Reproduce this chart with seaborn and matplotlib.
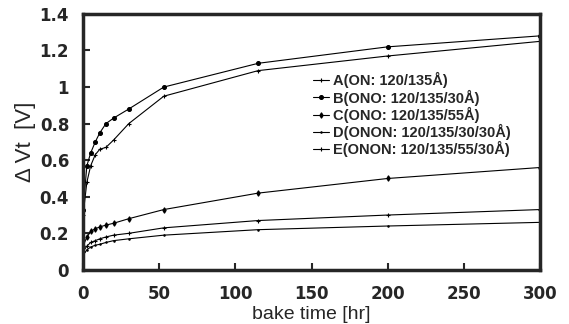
import matplotlib
matplotlib.use("Agg")
import matplotlib.pyplot as plt
import seaborn as sns
import pandas as pd
from matplotlib.ticker import FuncFormatter

# ---- data ----
bake_time = [0, 2.5, 5, 8, 11, 15, 20, 30, 53, 115, 200, 300]
series_names = [
    "A(ON: 120/135Å)",
    "B(ONO: 120/135/30Å)",
    "C(ONO: 120/135/55Å)",
    "D(ONON: 120/135/30/30Å)",
    "E(ONON: 120/135/55/30Å)",
]
vals_A = [0.30, 0.48, 0.57, 0.63, 0.66, 0.67, 0.71, 0.80, 0.95, 1.09, 1.17, 1.25]
vals_B = [0.33, 0.57, 0.64, 0.70, 0.75, 0.80, 0.83, 0.88, 1.00, 1.13, 1.22, 1.28]
vals_C = [0.13, 0.18, 0.21, 0.225, 0.235, 0.245, 0.255, 0.28, 0.33, 0.42, 0.50, 0.56]
vals_D = [0.08, 0.11, 0.125, 0.135, 0.14, 0.15, 0.16, 0.17, 0.19, 0.22, 0.24, 0.26]
vals_E = [0.10, 0.13, 0.15, 0.16, 0.17, 0.18, 0.19, 0.20, 0.23, 0.27, 0.30, 0.33]
markers = ["+", "o", "d", ".", "+"]
y_ticks = [0, 0.2, 0.4, 0.6, 0.8, 1.0, 1.2, 1.4]
x_ticks = [0, 50, 100, 150, 200, 250, 300]

values = [vals_A, vals_B, vals_C, vals_D, vals_E]
df = pd.concat(
    [pd.DataFrame({"t": bake_time, "v": v, "s": n}) for n, v in zip(series_names, values)],
    ignore_index=True,
)

sns.set_style("ticks")
plt.rcParams["font.family"] = ["Liberation Sans", "DejaVu Sans"]

fig = plt.figure(figsize=(5.69, 3.24), dpi=100)
ax = fig.add_axes([0.146, 0.167, 0.803, 0.790])

for name, mk in zip(series_names, markers):
    sub = df[df["s"] == name]
    sns.lineplot(data=sub, x="t", y="v", ax=ax, color="black", linewidth=0.8,
                 marker=mk, markersize=2.8 if mk != "." else 2.0,
                 markeredgecolor="black", markerfacecolor="black",
                 markeredgewidth=0.8, label=name)

ax.set_xlim(0, 300)
ax.set_ylim(0, 1.4)
ax.set_xticks(x_ticks)
ax.set_yticks(y_ticks)
ax.yaxis.set_major_formatter(FuncFormatter(lambda v, p: f"{v:g}"))
ax.tick_params(direction="in", length=5, width=1.5, labelsize=12)
ax.tick_params(axis="x", pad=11)
ax.tick_params(axis="y", pad=10)
for lab in ax.get_xticklabels() + ax.get_yticklabels():
    lab.set_family(["DejaVu Sans"])
    lab.set_fontweight("bold")
for sp in ax.spines.values():
    sp.set_linewidth(2.5)
    sp.set_visible(True)

ax.set_xlabel("bake time [hr]", fontsize=14, va="top")
ax.xaxis.set_label_coords(0.5, -0.14)
ax.set_ylabel("Δ Vt  [V]", fontsize=16, va="center")
ax.yaxis.set_label_coords(-0.125, 0.5)

leg = ax.legend(loc="upper left", bbox_to_anchor=(0.49, 0.795), frameon=False,
                fontsize=10.5, handlelength=1.1, handletextpad=0.3,
                labelspacing=0.08, borderaxespad=0)
for t in leg.get_texts():
    t.set_fontweight("bold")

fig.savefig("out.png", dpi=100)
